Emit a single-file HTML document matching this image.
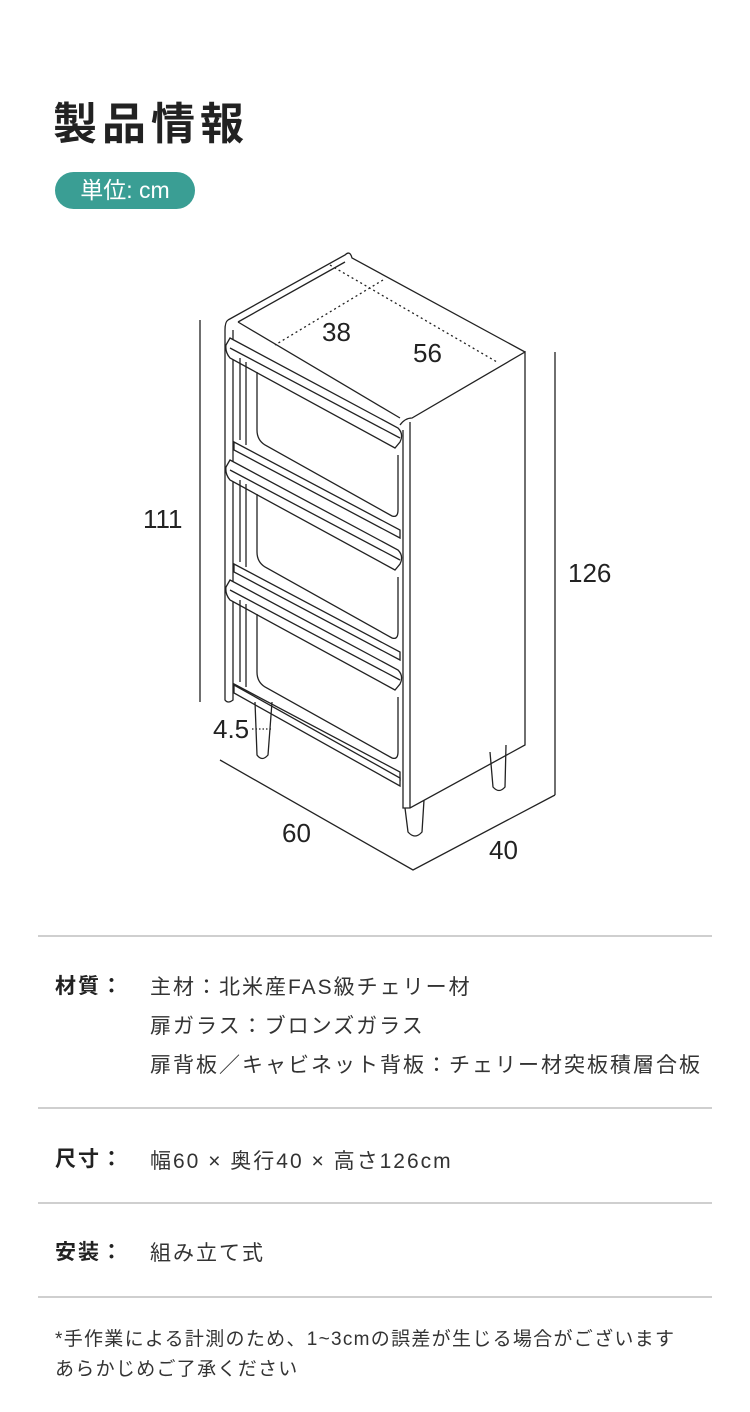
<!DOCTYPE html>
<html><head><meta charset="utf-8"><style>
body{margin:0;background:#fff;}
#p{position:relative;width:750px;height:1412px;overflow:hidden;font-family:"Liberation Sans","Noto Sans CJK JP",sans-serif;color:#222;}
.a{position:absolute;white-space:nowrap;}
.hr{position:absolute;left:38px;width:674px;height:2px;background:#cfcfcf;}
.lb{font-weight:bold;font-size:21px;left:55px;letter-spacing:2px;}
.v{font-size:21px;left:150px;color:#333;letter-spacing:2px;}
</style></head><body><div id="p">
<div class="a" style="left:53px;top:88px;font-size:44px;font-weight:bold;letter-spacing:5px;color:#222">製品情報</div>
<div class="a" style="left:55px;top:172px;width:140px;height:37px;border-radius:19px;background:#3a9e94;color:#fff;font-size:23px;line-height:37px;text-align:center">単位: cm</div>

<svg class="a" style="left:0;top:0" width="750" height="900" viewBox="0 0 750 900" fill="none" stroke="#222" stroke-width="1.3">
<line x1="200" y1="320" x2="200" y2="702"/>
<line x1="555" y1="352" x2="555" y2="795"/>
<polyline points="220,760 413,870 555,795"/>
<path d="M228,320 L345,255 Q350,250 352,258 L525,352"/>
<path d="M238,322 L345,262"/>
<path d="M228,320 Q225,322 225,330 L225,700 Q228,704 233,700 L233,330"/>
<path d="M238,322 L400,418"/>
<path d="M400,425 Q405,418 412,418 L525,352 L525,745 L410,808 L403,808 L403,430"/>
<line x1="410" y1="422" x2="410" y2="808"/>
<line x1="330" y1="265" x2="497" y2="362" stroke-dasharray="2,3"/>
<line x1="383" y1="280" x2="275" y2="345" stroke-dasharray="2,3"/>
<g id="d">
<path d="M230,338 L398,428 Q404,434 400,442 L395,448 L230,358 Q225,352 226,345 Z" fill="#fff"/>
<line x1="230" y1="348" x2="400" y2="438"/>
<line x1="240" y1="358" x2="240" y2="440"/>
<line x1="246" y1="362" x2="246" y2="445"/>
<path d="M257,372 L257,430 Q257,440 265,445 L392,516 Q398,518 398,510 L398,455"/>
<path d="M234,442 L400,530 L400,538 L234,450 Z" fill="#fff"/>
</g>
<use href="#d" y="122"/>
<use href="#d" y="242"/>
<path d="M234,685 L400,778 L400,786 L234,693 Z" fill="#fff"/>
<path d="M255,702 L257,755 Q262,762 268,755 L272,702"/>
<path d="M405,808 L408,832 Q415,840 422,832 L424,800"/>
<path d="M490,752 L493,787 Q499,794 505,787 L506,745"/>
<line x1="252" y1="729" x2="271" y2="729" stroke-dasharray="1.5,2"/>
<g fill="#222" stroke="none" font-size="26" font-family="Liberation Sans, sans-serif">
<text x="322" y="341">38</text>
<text x="413" y="362">56</text>
<text x="143" y="528">111</text>
<text x="568" y="582">126</text>
<text x="282" y="842">60</text>
<text x="489" y="859">40</text>
<text x="213" y="738">4.5</text>
</g>
</svg>

<div class="hr" style="top:935px"></div>
<div class="a lb" style="top:970px">材質：</div>
<div class="a v" style="top:971px">主材：北米産FAS級チェリー材</div>
<div class="a v" style="top:1010px">扉ガラス：ブロンズガラス</div>
<div class="a v" style="top:1049px">扉背板／キャビネット背板：チェリー材突板積層合板</div>
<div class="hr" style="top:1107px"></div>
<div class="a lb" style="top:1143px">尺寸：</div>
<div class="a v" style="top:1145px">幅60 × 奥行40 × 高さ126cm</div>
<div class="hr" style="top:1202px"></div>
<div class="a lb" style="top:1236px">安装：</div>
<div class="a v" style="top:1237px">組み立て式</div>
<div class="hr" style="top:1296px"></div>
<div class="a" style="left:55px;top:1324px;font-size:19px;color:#333;letter-spacing:1.3px">*手作業による計測のため、1~3cmの誤差が生じる場合がございます</div>
<div class="a" style="left:55px;top:1354px;font-size:19px;color:#333;letter-spacing:1.3px">あらかじめご了承ください</div>
</div></body></html>
